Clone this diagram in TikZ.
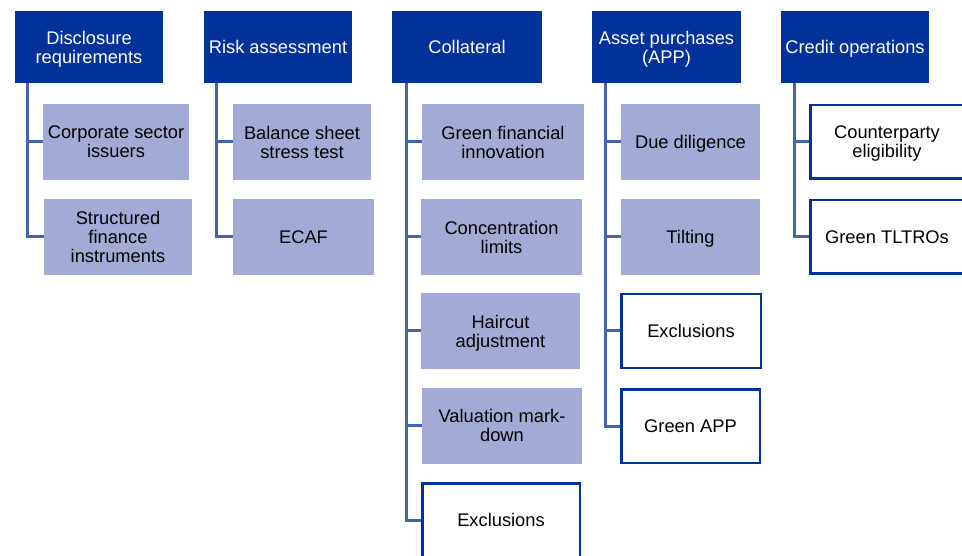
\documentclass[tikz,border=0pt]{standalone}
\usepackage{fontspec}
\setmainfont{Liberation Sans}
\definecolor{ecbblue}{HTML}{003299}
\definecolor{lightbox}{HTML}{A3AAD5}
\definecolor{connblue}{HTML}{4563A8}
\begin{document}
\begin{tikzpicture}[x=1pt,y=-1pt,
  every node/.style={font=\fontsize{18.3}{19}\selectfont, align=center, inner sep=0pt, anchor=center, text depth=0pt},
  header/.style={fill=ecbblue, text=white, minimum height=72pt},
  filled/.style={fill=lightbox, text=black, minimum height=76pt},
  framed/.style={fill=white, draw=ecbblue, line width=2.5pt, text=black, minimum height=73.5pt},
  conn/.style={draw=connblue, line width=3pt}]
\useasboundingbox (0,0) rectangle (962,556);
% headers
\node[header, minimum width=148pt] (H1) at (89,47) {Disclosure\\requirements};
\node[header, minimum width=148pt] (H2) at (278,47) {Risk assessment};
\node[header, minimum width=150pt] (H3) at (467,47) {Collateral};
\node[header, minimum width=149pt] (H4) at (666.5,47) {Asset purchases\\(APP)};
\node[header, minimum width=148pt] (H5) at (855,47) {Credit operations};
% column 1
\node[filled, minimum width=146pt] (C1a) at (116,142) {Corporate sector\\issuers};
\node[filled, minimum width=148pt] (C1b) at (118,237) {Structured\\finance\\instruments};
% column 2
\node[filled, minimum width=138pt] (C2a) at (302,142) {Balance sheet\\stress test};
\node[filled, minimum width=141pt] (C2b) at (303.5,237) {ECAF};
% column 3
\node[filled, minimum width=162pt] (C3a) at (503,142) {Green financial\\innovation};
\node[filled, minimum width=161pt] (C3b) at (501.5,237) {Concentration\\limits};
\node[filled, minimum width=159pt] (C3c) at (500.5,331) {Haircut\\adjustment};
\node[filled, minimum width=160pt] (C3d) at (502,425.5) {Valuation mark-\\down};
\node[framed, minimum width=157.5pt] (C3e) at (501,520) {Exclusions};
% column 4
\node[filled, minimum width=139pt] (C4a) at (690.5,142) {Due diligence};
\node[filled, minimum width=139pt] (C4b) at (690.5,237) {Tilting};
\node[framed, minimum width=139.5pt] (C4c) at (691,331) {Exclusions};
\node[framed, minimum width=138.5pt] (C4d) at (690.5,426) {Green APP};
% column 5
\node[framed, minimum width=153.5pt] (C5a) at (887,142) {Counterparty\\eligibility};
\node[framed, minimum width=153.5pt] (C5b) at (887,237) {Green TLTROs};
% connectors
\coordinate (T1) at ([xshift=13pt]H1.south west);
\coordinate (T2) at ([xshift=13pt]H2.south west);
\coordinate (T3) at ([xshift=15pt]H3.south west);
\coordinate (T4) at ([xshift=14pt]H4.south west);
\coordinate (T5) at ([xshift=14pt]H5.south west);
\draw[conn] (T1) |- (C1b.west);
\draw[conn] (T1 |- C1a.west) -- (C1a.west);
\draw[conn] (T2) |- (C2b.west);
\draw[conn] (T2 |- C2a.west) -- (C2a.west);
\draw[conn] (T3) |- (C3e.west);
\draw[conn] (T3 |- C3a.west) -- (C3a.west);
\draw[conn] (T3 |- C3b.west) -- (C3b.west);
\draw[conn] (T3 |- C3c.west) -- (C3c.west);
\draw[conn] (T3 |- C3d.west) -- (C3d.west);
\draw[conn] (T4) |- (C4d.west);
\draw[conn] (T4 |- C4a.west) -- (C4a.west);
\draw[conn] (T4 |- C4b.west) -- (C4b.west);
\draw[conn] (T4 |- C4c.west) -- (C4c.west);
\draw[conn] (T5) |- (C5b.west);
\draw[conn] (T5 |- C5a.west) -- (C5a.west);
\end{tikzpicture}
\end{document}
